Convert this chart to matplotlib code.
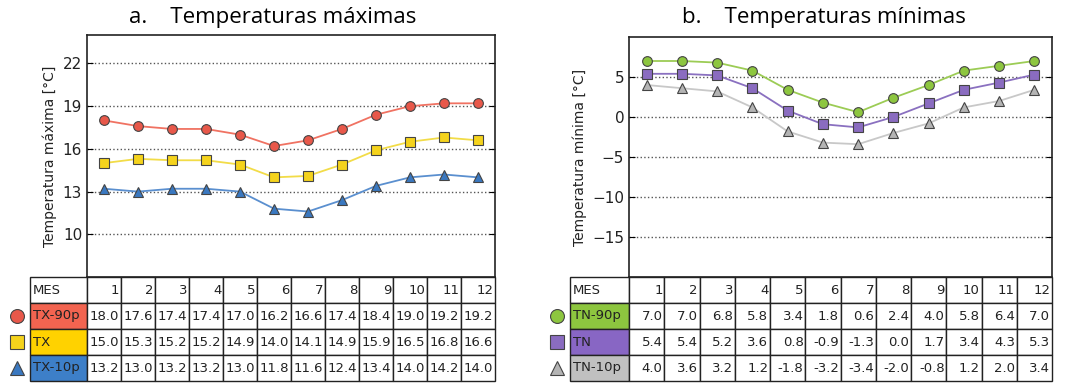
import matplotlib
matplotlib.use("Agg")
import matplotlib.pyplot as plt

plt.rcParams["font.family"] = ["DejaVu Sans"]

months = [1, 2, 3, 4, 5, 6, 7, 8, 9, 10, 11, 12]

tx_labels = ["TX-90p", "TX", "TX-10p"]
tx90 = [18.0, 17.6, 17.4, 17.4, 17.0, 16.2, 16.6, 17.4, 18.4, 19.0, 19.2, 19.2]
tx = [15.0, 15.3, 15.2, 15.2, 14.9, 14.0, 14.1, 14.9, 15.9, 16.5, 16.8, 16.6]
tx10 = [13.2, 13.0, 13.2, 13.2, 13.0, 11.8, 11.6, 12.4, 13.4, 14.0, 14.2, 14.0]

tn_labels = ["TN-90p", "TN", "TN-10p"]
tn90 = [7.0, 7.0, 6.8, 5.8, 3.4, 1.8, 0.6, 2.4, 4.0, 5.8, 6.4, 7.0]
tn = [5.4, 5.4, 5.2, 3.6, 0.8, -0.9, -1.3, 0.0, 1.7, 3.4, 4.3, 5.3]
tn10 = [4.0, 3.6, 3.2, 1.2, -1.8, -3.2, -3.4, -2.0, -0.8, 1.2, 2.0, 3.4]

markers = ["o", "s", "^"]
tx_face = ["#e8584a", "#f5d31c", "#3a78c0"]
tx_line = ["#f07262", "#f2dc48", "#5a8fcf"]
tx_cell = ["#f26450", "#ffd200", "#3d7fc8"]
tn_face = ["#8dc63f", "#8a6cc0", "#b4b4b4"]
tn_line = ["#9ccc55", "#8a70c0", "#c8c8c8"]
tn_cell = ["#8dc63f", "#8866c4", "#c0c0c0"]

fig = plt.figure(figsize=(10.73, 3.85), dpi=100)


def panel(rect, series, labels, faces, lines, cells, ylim, yticks, ylabel,
          tbl_x0, tbl_w, leg_x, ax_h_px):
    ax = fig.add_axes(rect)
    for vals, m, fc, lc in zip(series, markers, faces, lines):
        ax.plot(months, vals, color=lc, lw=1.3, zorder=2)
        ax.plot(months, vals, ls="none", marker=m, ms=7, mfc=fc,
                mec="#444444", mew=0.8, zorder=3)
    ax.set_xlim(0.5, 12.5)
    ax.set_ylim(*ylim)
    ax.set_yticks(yticks)
    ax.set_xticks([])
    ax.yaxis.grid(True, ls=":", color="#555555", lw=1.0)
    ax.tick_params(axis="y", direction="in", length=4, labelsize=11,
                   right=True, labelcolor="#222222")
    ax.set_ylabel(ylabel, fontsize=10, color="#222222", labelpad=4)
    for s in ax.spines.values():
        s.set_linewidth(1.2)
        s.set_color("#222222")

    row_px = 26.0
    tbl_h = 4 * row_px / ax_h_px
    text = [["MES"] + [str(m) for m in months]]
    for lab, vals in zip(labels, series):
        text.append([lab] + ["%.1f" % v for v in vals])
    tbl = ax.table(cellText=text, bbox=[tbl_x0, -tbl_h, tbl_w, tbl_h],
                   colWidths=[57] + [34] * 12, cellLoc="right")
    tbl.auto_set_font_size(False)
    tbl.set_fontsize(9.5)
    for (r, c), cell in tbl.get_celld().items():
        cell.set_linewidth(1.0)
        cell.set_edgecolor("#222222")
        cell.PAD = 0.05
        if c == 0:
            cell.get_text().set_ha("left")
            cell._loc = "left"
            if r > 0:
                cell.set_facecolor(cells[r - 1])
        cell.get_text().set_color("#222222")

    for i, (m, fc) in enumerate(zip(markers, faces)):
        yc = -(row_px * (i + 1) + row_px / 2) / ax_h_px
        ax.plot([leg_x], [yc], marker=m, ms=10, mfc=fc, mec="#444444",
                mew=0.8, transform=ax.transAxes, clip_on=False, ls="none")
    return ax


panel([87 / 1073, 108 / 385, 408 / 1073, 242 / 385],
      [tx90, tx, tx10], tx_labels, tx_face, tx_line, tx_cell,
      (7, 24), [10, 13, 16, 19, 22], "Temperatura máxima [°C]",
      (30 - 87) / 408, (495 - 30) / 408, (17 - 87) / 408, 242)

panel([629 / 1073, 108 / 385, 423 / 1073, 240 / 385],
      [tn90, tn, tn10], tn_labels, tn_face, tn_line, tn_cell,
      (-20, 10), [-15, -10, -5, 0, 5], "Temperatura mínima [°C]",
      (570 - 629) / 423, (1052 - 570) / 423, (557 - 629) / 423, 240)

fig.text(273 / 1073, 1 - 18 / 385, "a.    Temperaturas máximas", ha="center",
         va="center", fontsize=16, family=["Open Sans", "DejaVu Sans"])
fig.text(824 / 1073, 1 - 18 / 385, "b.    Temperaturas mínimas", ha="center",
         va="center", fontsize=16, family=["Open Sans", "DejaVu Sans"])

fig.savefig("out.png", dpi=100)
